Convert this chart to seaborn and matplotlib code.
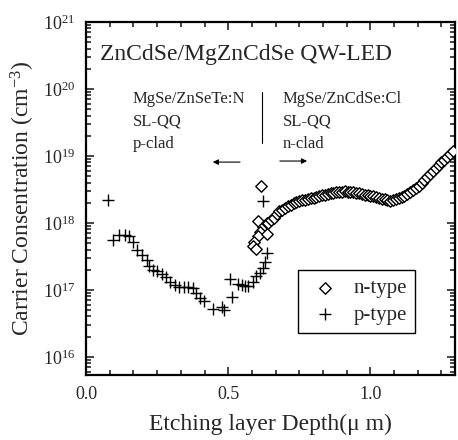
import numpy as np
import pandas as pd
import seaborn as sns
import matplotlib.pyplot as plt
from matplotlib.ticker import MultipleLocator, LogLocator, NullFormatter, FormatStrFormatter

sns.set_style('ticks')
plt.rcParams['font.family'] = ['Liberation Serif', 'DejaVu Serif']
plt.rcParams['mathtext.fontset'] = 'custom'
plt.rcParams['mathtext.rm'] = 'Liberation Serif'
plt.rcParams['mathtext.it'] = 'Liberation Serif:italic'

# p-type (+) points, depth in um, concentration in cm^-3
p_depth = [0.077, 0.096, 0.117, 0.137, 0.152, 0.166, 0.180, 0.196, 0.213, 0.222,
           0.237, 0.251, 0.266, 0.281, 0.295, 0.313, 0.328, 0.344, 0.360, 0.375,
           0.387, 0.401, 0.415, 0.447, 0.479, 0.486, 0.506, 0.512, 0.535, 0.547,
           0.559, 0.570, 0.586, 0.598, 0.612, 0.621, 0.629, 0.637, 0.623]
p_conc = [2.2e18, 5.6e17, 6.5e17, 6.6e17, 6.3e17, 5.2e17, 4.0e17, 3.3e17, 2.8e17, 2.3e17,
          2.0e17, 1.9e17, 1.7e17, 1.55e17, 1.3e17, 1.2e17, 1.1e17, 1.1e17, 1.1e17, 1.05e17,
          8.9e16, 7.6e16, 6.8e16, 5.2e16, 5.5e16, 5.0e16, 1.45e17, 7.9e16, 1.23e17, 1.17e17,
          1.15e17, 1.15e17, 1.3e17, 1.6e17, 1.8e17, 2.1e17, 2.6e17, 3.6e17, 2.1e18]

# n-type (diamond) points
n_depth = [0.614, 0.606, 0.621, 0.612, 0.603, 0.591, 0.586, 0.598, 0.635, 0.637,
           0.64, 0.65, 0.66, 0.67, 0.68, 0.69, 0.70, 0.71, 0.72, 0.73,
           0.74, 0.75, 0.76, 0.77, 0.78, 0.79, 0.80, 0.81, 0.82, 0.83,
           0.84, 0.85, 0.86, 0.87, 0.88, 0.89, 0.90, 0.91, 0.92, 0.93,
           0.94, 0.95, 0.96, 0.97, 0.98, 0.99, 1.00, 1.01, 1.02, 1.03,
           1.04, 1.05, 1.06, 1.07, 1.08, 1.09, 1.10, 1.11, 1.12, 1.13,
           1.14, 1.15, 1.16, 1.17, 1.18, 1.19, 1.20, 1.21, 1.22, 1.23,
           1.24, 1.25, 1.26, 1.27, 1.28, 1.29]
n_conc = [3.5e18, 1.05e18, 8.7e17, 7.4e17, 6.3e17, 5.2e17, 4.5e17, 4.1e17, 6.9e17, 9.8e17,
          1.00e18, 1.10e18, 1.20e18, 1.35e18, 1.48e18, 1.58e18, 1.68e18, 1.77e18, 1.86e18, 1.95e18,
          2.02e18, 2.10e18, 2.17e18, 2.22e18, 2.28e18, 2.33e18, 2.38e18, 2.45e18, 2.52e18, 2.58e18,
          2.65e18, 2.70e18, 2.76e18, 2.82e18, 2.86e18, 2.90e18, 2.93e18, 2.95e18, 2.93e18, 2.90e18,
          2.86e18, 2.82e18, 2.76e18, 2.70e18, 2.65e18, 2.60e18, 2.55e18, 2.50e18, 2.44e18, 2.38e18,
          2.30e18, 2.24e18, 2.18e18, 2.15e18, 2.18e18, 2.25e18, 2.32e18, 2.40e18, 2.52e18, 2.68e18,
          2.85e18, 3.05e18, 3.30e18, 3.60e18, 3.95e18, 4.35e18, 4.80e18, 5.30e18, 5.90e18, 6.50e18,
          7.20e18, 8.00e18, 8.80e18, 9.70e18, 1.07e19, 1.20e19]

fig, ax = plt.subplots(figsize=(4.58, 4.4), dpi=100)
fig.subplots_adjust(left=0.188, right=0.993, top=0.95, bottom=0.148)

sns.scatterplot(x=n_depth, y=n_conc, marker='D', s=34, color='white', edgecolor='black',
                linewidth=1.0, label='n-type', ax=ax, zorder=3)
sns.scatterplot(x=p_depth, y=p_conc, marker='+', s=70, color='black',
                linewidth=1.0, label='p-type', ax=ax, zorder=4)

ax.set_yscale('log')
ax.set_xlim(0, 1.297)
ax.set_ylim(10**15.73, 1e21)

ax.xaxis.set_major_locator(MultipleLocator(0.5))
ax.xaxis.set_minor_locator(MultipleLocator(0.5 / 6))
ax.xaxis.set_major_formatter(FormatStrFormatter('%.1f'))
ax.yaxis.set_major_locator(LogLocator(base=10, numticks=12))
ax.yaxis.set_minor_locator(LogLocator(base=10, subs=np.arange(2, 10), numticks=12))
ax.yaxis.set_minor_formatter(NullFormatter())

ax.tick_params(which='both', direction='in', top=True, right=True, width=1.2, labelsize=13)
ax.tick_params(which='major', length=6, pad=8)
ax.tick_params(which='minor', length=3.5)
for sp in ax.spines.values():
    sp.set_linewidth(1.6)
    sp.set_color('black')

ax.set_xlabel('Etching layer Depth(\u03bc m)', fontsize=17, labelpad=8)
ax.set_ylabel('Carrier Consentration (cm$^{-3}$)', fontsize=17, labelpad=4)

# annotations
ax.text(0.038, 0.892, 'ZnCdSe/MgZnCdSe QW-LED', transform=ax.transAxes, fontsize=17, va='baseline')
for i, s in enumerate(['MgSe/ZnSeTe:N', 'SL-QQ', 'p-clad']):
    ax.text(0.127, 0.771 - i * 0.064, s, transform=ax.transAxes, fontsize=12, va='baseline')
for i, s in enumerate(['MgSe/ZnCdSe:Cl', 'SL-QQ', 'n-clad']):
    ax.text(0.534, 0.771 - i * 0.064, s, transform=ax.transAxes, fontsize=12, va='baseline')
ax.plot([0.477, 0.477], [0.657, 0.802], transform=ax.transAxes, color='black', lw=0.8)
ax.annotate('', xy=(0.336, 0.603), xytext=(0.425, 0.603), xycoords='axes fraction',
            arrowprops=dict(arrowstyle='-|>', lw=0.8, color='black', mutation_scale=8))
ax.annotate('', xy=(0.607, 0.606), xytext=(0.518, 0.606), xycoords='axes fraction',
            arrowprops=dict(arrowstyle='-|>', lw=0.8, color='black', mutation_scale=8))

leg = ax.legend(loc='upper left', bbox_to_anchor=(0.575, 0.297), borderaxespad=0,
                frameon=True, fancybox=False, edgecolor='black', framealpha=1, fontsize=15,
                handletextpad=0.45, borderpad=0.4, labelspacing=0.35, handlelength=1.8)
leg.get_frame().set_linewidth(1.0)

plt.savefig('out.png', dpi=100)
